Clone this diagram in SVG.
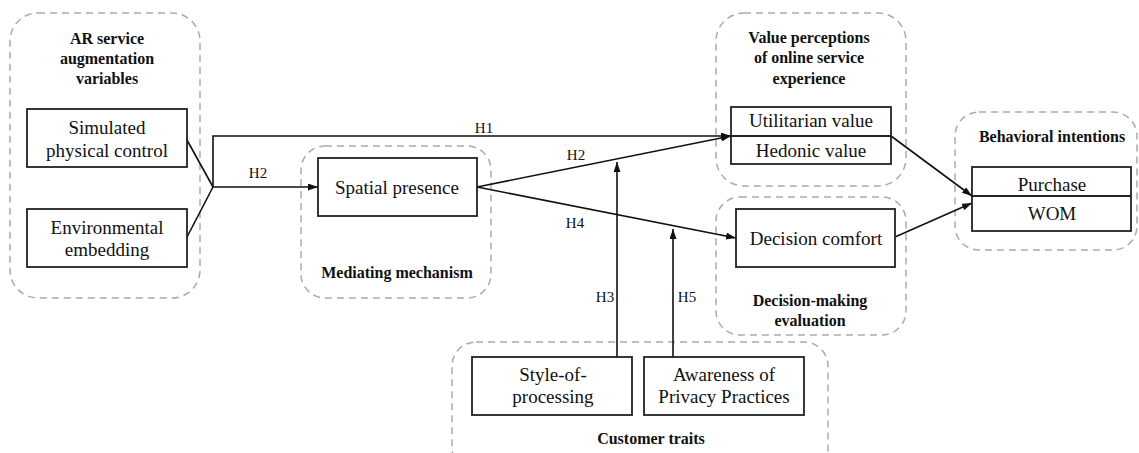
<svg xmlns="http://www.w3.org/2000/svg" width="1139" height="453" viewBox="0 0 1139 453">
<style>
.grp{fill:none;stroke:#aaaaaa;stroke-width:1.5;stroke-dasharray:7 5}
.box{fill:#fff;stroke:#222;stroke-width:1.8}
text{font-family:'Liberation Serif','DejaVu Serif',serif;fill:#111;text-anchor:middle}
.t{font-size:19px}
.g{font-size:16px;font-weight:bold}
.h{font-size:15px}
.c{fill:none;stroke:#111;stroke-width:1.6}
</style>
<defs>
<marker id="arr" markerWidth="11" markerHeight="8" refX="10" refY="3.5" orient="auto" markerUnits="userSpaceOnUse">
<path d="M0,0 L10,3.5 L0,7 z" fill="#111"/>
</marker>
</defs>
<rect width="1139" height="453" fill="#fff"/>

<g id="grp-ar">
<rect class="grp" x="10" y="13" width="190" height="285" rx="28"/>
<text class="g" x="107" y="44">AR service</text>
<text class="g" x="107" y="64">augmentation</text>
<text class="g" x="107" y="84">variables</text>
</g>
<g id="grp-mediating">
<rect class="grp" x="301" y="146" width="190" height="152" rx="24"/>
<text class="g" x="397" y="278">Mediating mechanism</text>
</g>
<g id="grp-value">
<rect class="grp" x="716" y="13" width="190" height="173" rx="28"/>
<text class="g" x="809" y="43">Value perceptions</text>
<text class="g" x="809" y="63">of online service</text>
<text class="g" x="809" y="84">experience</text>
</g>
<g id="grp-decision">
<rect class="grp" x="716" y="197" width="190" height="138" rx="24"/>
<text class="g" x="810" y="306">Decision-making</text>
<text class="g" x="810" y="326">evaluation</text>
</g>
<g id="grp-behavioral">
<rect class="grp" x="955" y="112" width="182" height="138" rx="24"/>
<text class="g" x="1052" y="142">Behavioral intentions</text>
</g>
<g id="grp-customer">
<rect class="grp" x="452" y="342" width="376" height="130" rx="24"/>
<text class="g" x="651" y="444">Customer traits</text>
</g>

<g id="connectors">
<line class="c" x1="187" y1="140" x2="213" y2="187"/>
<line class="c" x1="187" y1="237" x2="213" y2="187"/>
<path class="c" d="M213,187 V136 H731" marker-end="url(#arr)"/>
<path class="c" d="M213,187 H318" marker-end="url(#arr)"/>
<path class="c" d="M477,187 L731,136" marker-end="url(#arr)"/>
<path class="c" d="M477,187 L736,238" marker-end="url(#arr)"/>
<path class="c" d="M617,357 V162" marker-end="url(#arr)"/>
<path class="c" d="M673,357 V229" marker-end="url(#arr)"/>
<path class="c" d="M891,136 L972,196" marker-end="url(#arr)"/>
<path class="c" d="M895,237 L972,203" marker-end="url(#arr)"/>
<text class="h" x="484" y="133">H1</text>
<text class="h" x="258" y="178">H2</text>
<text class="h" x="576" y="160">H2</text>
<text class="h" x="575" y="228">H4</text>
<text class="h" x="605" y="302">H3</text>
<text class="h" x="687" y="302">H5</text>
</g>

<g id="node-simulated">
<rect class="box" x="27" y="109" width="160" height="58"/>
<text class="t" x="107" y="134">Simulated</text>
<text class="t" x="107" y="157">physical control</text>
</g>
<g id="node-environmental">
<rect class="box" x="27" y="209" width="160" height="58"/>
<text class="t" x="107" y="234">Environmental</text>
<text class="t" x="107" y="256">embedding</text>
</g>
<g id="node-spatial">
<rect class="box" x="318" y="158" width="159" height="58"/>
<text class="t" x="397" y="194">Spatial presence</text>
</g>
<g id="node-value">
<rect class="box" x="731" y="107" width="160" height="57"/>
<line x1="731" y1="136" x2="891" y2="136" stroke="#222" stroke-width="1.8"/>
<text class="t" x="811" y="127">Utilitarian  value</text>
<text class="t" x="811" y="157">Hedonic value</text>
</g>
<g id="node-decision">
<rect class="box" x="736" y="209" width="159" height="58"/>
<text class="t" x="816" y="245">Decision comfort</text>
</g>
<g id="node-behavioral">
<rect class="box" x="972" y="167" width="159" height="64"/>
<line x1="972" y1="196" x2="1131" y2="196" stroke="#222" stroke-width="1.8"/>
<text class="t" x="1052" y="191">Purchase</text>
<text class="t" x="1052" y="220">WOM</text>
</g>
<g id="node-style">
<rect class="box" x="472" y="357" width="160" height="58"/>
<text class="t" x="553" y="381">Style-of-</text>
<text class="t" x="553" y="403">processing</text>
</g>
<g id="node-awareness">
<rect class="box" x="644" y="357" width="160" height="58"/>
<text class="t" x="724" y="381">Awareness of</text>
<text class="t" x="724" y="403">Privacy Practices</text>
</g>
</svg>
